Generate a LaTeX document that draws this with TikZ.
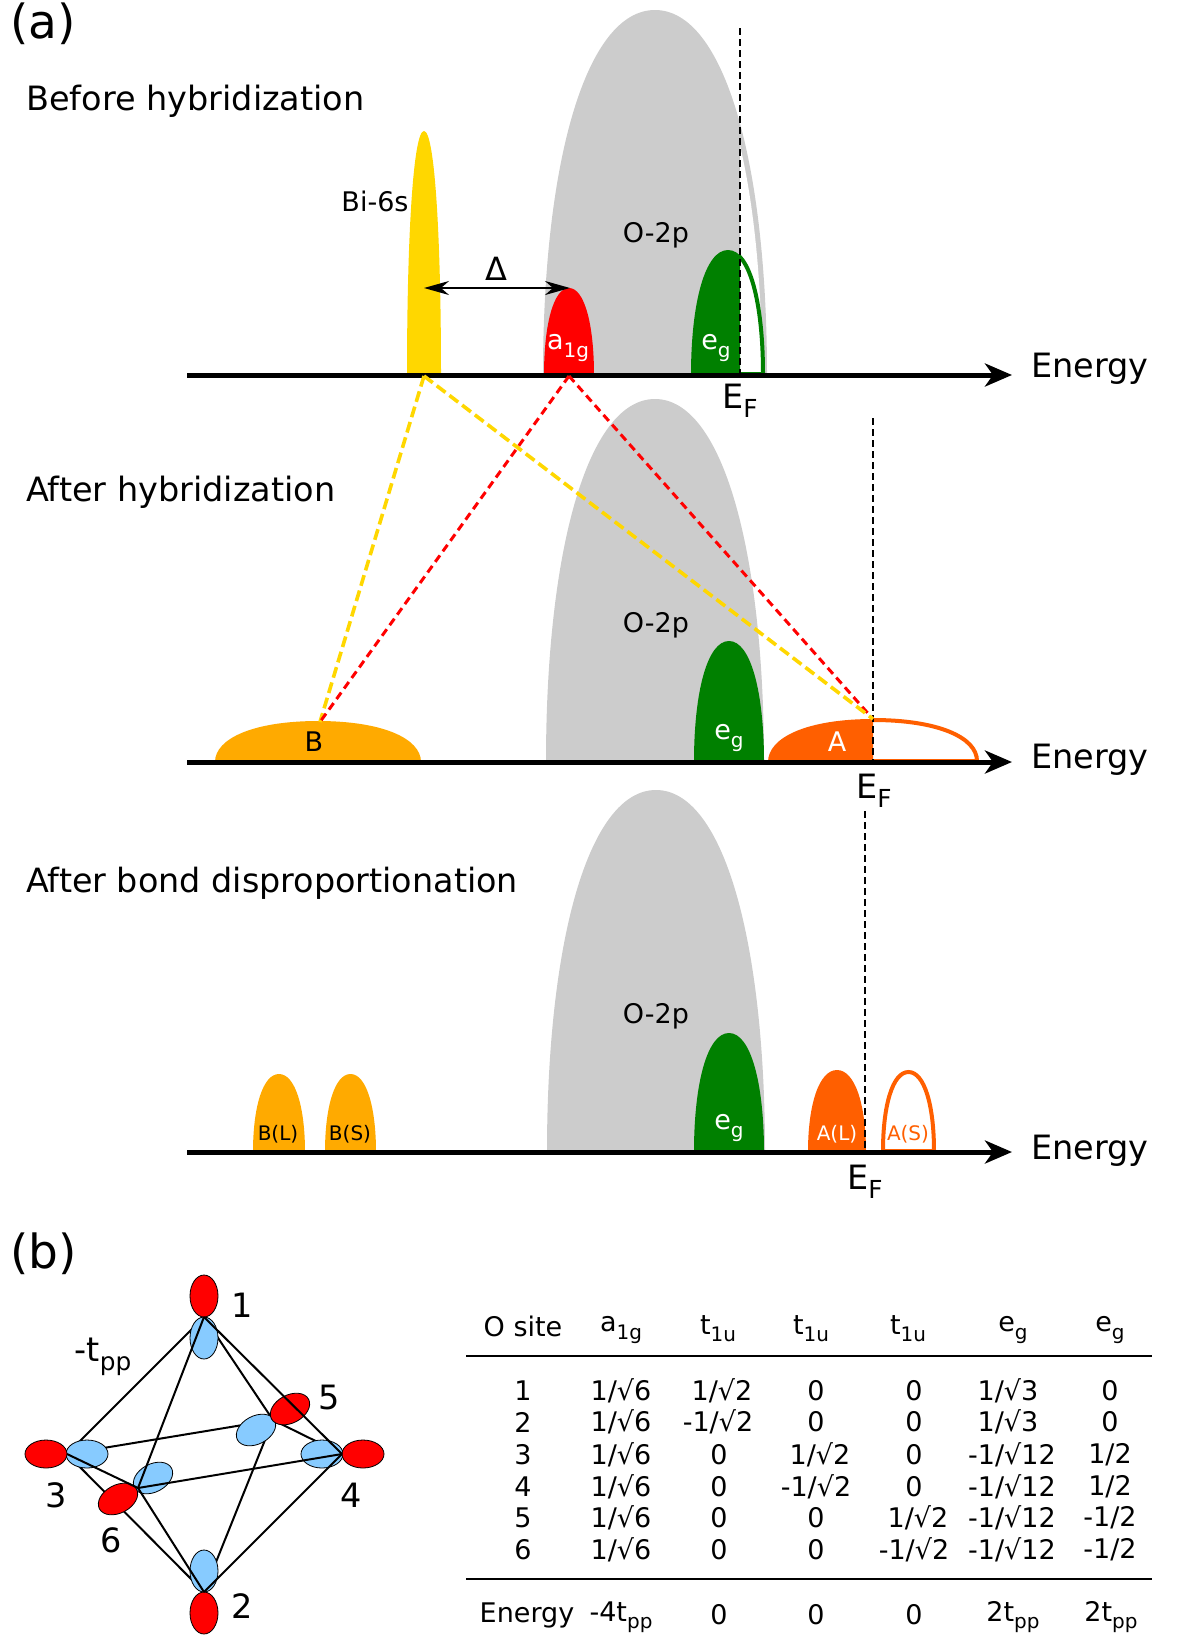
\documentclass[tikz,border=0pt]{standalone}
\usepackage{fontspec}
\setmainfont{DejaVu Sans}
\usetikzlibrary{arrows.meta,shapes.geometric}
\definecolor{bandgrey}{HTML}{CCCCCC}
\definecolor{bisix}{HTML}{FFD700}
\definecolor{bandred}{HTML}{FF0000}
\definecolor{bandgreen}{HTML}{008000}
\definecolor{bandA}{HTML}{FF5F00}
\definecolor{bandB}{HTML}{FFAA00}
\definecolor{lobeblue}{HTML}{87CBFF}
% lowered, smaller text for subscripts
\newcommand\lw[1]{\raisebox{-.26em}{\scalebox{.74}{#1}}}
% band shape: options, centre x, base y, half width, height
\newcommand\hump[5][]{\path[#1] ({#2-#4},#3)
  .. controls ({#2-#4},{#3-.58*#5}) and ({#2-.62*#4},{#3-#5}) .. (#2,{#3-#5})
  .. controls ({#2+.62*#4},{#3-#5}) and ({#2+#4},{#3-.58*#5}) .. ({#2+#4},#3) -- cycle;}
\tikzset{
  big/.style={font=\fontsize{33.5}{38}\selectfont,inner sep=0pt},
  huge/.style={font=\fontsize{47}{54}\selectfont,inner sep=0pt},
  mid/.style={font=\fontsize{27}{32}\selectfont,inner sep=0pt},
  tiny/.style={font=\fontsize{20}{24}\selectfont,inner sep=0pt},
  axisline/.style={line width=5pt,-{Stealth[length=27pt,width=23pt,inset=8pt]}},
  fermi/.style={line width=1.6pt,dash pattern=on 7pt off 4pt},
  yellowdash/.style={bisix,line width=3.6pt,dash pattern=on 11pt off 5pt},
  reddash/.style={bandred,line width=3pt,dash pattern=on 8pt off 5pt},
  bond/.style={line width=2pt},
  lobe/.style={ellipse,draw=black,line width=.8pt,inner sep=0pt,minimum width=42pt,minimum height=28pt},
  redlobe/.style={lobe,fill=bandred},
  bluelobe/.style={lobe,fill=lobeblue},
  rulegrey/.style={line width=1.8pt},
}
\begin{document}
\begin{tikzpicture}[x=1pt,y=-1pt]
\useasboundingbox (0,0) rectangle (1200,1650);

% --- panel 1: before hybridization
\hump[fill=bandgrey]{655}{375}{112}{365}
\begin{scope}
  \clip (740,0) rectangle (900,375);
  \hump[fill=white]{655}{375}{107}{355}
\end{scope}
\hump[fill=bisix]{424}{375}{17}{244}
\hump[fill=bandred]{569}{375}{25}{87}
\begin{scope}
  \clip (600,200) rectangle (740,375);
  \hump[fill=bandgreen]{728}{375}{37}{125}
\end{scope}
\begin{scope}
  \clip (740,200) rectangle (800,380);
  \hump[draw=bandgreen,line width=4pt]{728}{374}{35}{123}
\end{scope}
\coordinate (ef1a) at (740,28);
\coordinate (ef1b) at (740,375);
\draw[fermi] (ef1a) -- (ef1b);
\coordinate (ax1a) at (187,375);
\coordinate (ax1b) at (1012,375);
\draw[axisline] (ax1a) -- (ax1b);
\coordinate (gapa) at (424,288);
\coordinate (gapb) at (570,288);
\draw[line width=1.6pt,{Stealth[length=25pt,width=14pt,inset=8pt]}-{Stealth[length=25pt,width=14pt,inset=8pt]}] (gapa) -- (gapb);

% --- panel 2: after hybridization
\hump[fill=bandgrey]{655}{762}{109}{363}
\hump[fill=bandgreen]{729}{762}{35}{121}
\hump[fill=bandB]{318}{762}{103}{41}
\begin{scope}
  \clip (700,600) rectangle (873,762);
  \hump[fill=bandA]{873}{762}{105}{43}
\end{scope}
\begin{scope}
  \clip (873,600) rectangle (1000,764);
  \hump[draw=bandA,line width=4pt]{873}{761}{104}{41}
\end{scope}
\coordinate (ef2a) at (873,418);
\coordinate (ef2b) at (873,762);
\draw[fermi] (ef2a) -- (ef2b);
\coordinate (ax2a) at (187,762);
\coordinate (ax2b) at (1012,762);
\draw[axisline] (ax2a) -- (ax2b);

% --- panel 3: after bond disproportionation
\hump[fill=bandgrey]{656}{1152}{109}{362}
\hump[fill=bandgreen]{729}{1152}{35}{119}
\hump[fill=bandB]{279}{1152}{26}{78}
\hump[fill=bandB]{350.5}{1152}{25.5}{78}
\hump[fill=bandA]{837}{1152}{29}{82}
\hump[draw=bandA,line width=4pt]{908.5}{1151}{25.5}{79}
\coordinate (ef3a) at (865,811);
\coordinate (ef3b) at (865,1152);
\draw[fermi] (ef3a) -- (ef3b);
\coordinate (ax3a) at (187,1152);
\coordinate (ax3b) at (1012,1152);
\draw[axisline] (ax3a) -- (ax3b);

% --- correlation lines between levels
\coordinate (bi) at (424,376);
\coordinate (aone) at (569,376);
\coordinate (bb) at (320,722);
\coordinate (aa) at (873,719);
\draw[yellowdash] (bi) -- (bb);
\draw[reddash] (aone) -- (bb);
\draw[reddash] (aone) -- (aa);
\draw[yellowdash] (bi) -- (aa);

% --- headings and band labels
\node[huge,anchor=west] (la) at (10,24) {(a)};
\node[big,anchor=west] (t1) at (26,101) {Before hybridization};
\node[big,anchor=west] (t2) at (26,492) {After hybridization};
\node[font=\fontsize{33.4}{38}\selectfont,inner sep=0pt,anchor=west] (t3) at (26,883) {After bond disproportionation};
\node[mid] (bilab) at (375,201) {Bi-6s};
\node[font=\fontsize{32}{38}\selectfont,inner sep=0pt] (dlab) at (496,269) {Δ};
\node[mid] (o1) at (656,235) {O-2p};
\node[mid] (o2) at (656,625) {O-2p};
\node[mid] (o3) at (656,1016) {O-2p};
\node[mid,white] (a1g) at (568,348) {a\lw{1g}};
\node[mid,white] (eg1) at (716,348) {e\lw{g}};
\node[mid,white] (eg2) at (729,738) {e\lw{g}};
\node[mid,white] (eg3) at (729,1128) {e\lw{g}};
\node[mid] (blab) at (314,742) {B};
\node[mid,white] (alab) at (837,742) {A};
\node[tiny] (bl) at (278,1134) {B(L)};
\node[tiny] (bs) at (350,1134) {B(S)};
\node[tiny,white] (al) at (837,1134) {A(L)};
\node[tiny,bandA] (as) at (908,1134) {A(S)};
\node[big] (ef1) at (740,401) {E\lw{F}};
\node[big] (ef2) at (874,791) {E\lw{F}};
\node[big] (ef3) at (865,1182) {E\lw{F}};
\node[big,anchor=west] (en1) at (1031,369) {Energy};
\node[big,anchor=west] (en2) at (1031,760) {Energy};
\node[big,anchor=west] (en3) at (1031,1151) {Energy};

% --- panel (b): octahedron of oxygen orbitals
\node[huge,anchor=west] (lb) at (10,1254) {(b)};
\coordinate (vT) at (204,1317);
\coordinate (vB) at (204,1592);
\coordinate (vL) at (67,1454);
\coordinate (vR) at (342,1454);
\coordinate (vN) at (138,1488);
\coordinate (vF) at (273,1420);
% bonds that pass behind the orbitals
\draw[bond] (vT) -- (vL);
\draw[bond] (vT) -- (vF);
\draw[bond] (vF) -- (vR);
\draw[bond] (vL) -- (vF);
\draw[bond] (vF) -- (vB);
\draw[bond] (vL) -- (vB);
% orbitals
\node[bluelobe,rotate=90] (b1) at (204,1338) {};
\node[redlobe,rotate=90] (r1) at (204,1296) {};
\node[bluelobe,rotate=90] (b2) at (204,1571) {};
\node[redlobe,rotate=90] (r2) at (204,1613) {};
\node[bluelobe] (b3) at (87,1454) {};
\node[redlobe] (r3) at (46,1454) {};
\node[bluelobe] (b4) at (322,1454) {};
\node[redlobe] (r4) at (363,1454) {};
\node[bluelobe,rotate=28] (b5) at (256,1430) {};
\node[redlobe,rotate=28] (r5) at (290,1409) {};
\node[bluelobe,rotate=28] (b6) at (153,1478) {};
\node[redlobe,rotate=28] (r6) at (118,1499) {};
% bonds in front of the orbitals
\draw[bond] (vT) -- (vN);
\draw[bond] (vT) -- (vR);
\draw[bond] (vL) -- (vN);
\draw[bond] (vN) -- (vR);
\draw[bond] (vN) -- (vB);
\draw[bond] (vR) -- (vB);
% site numbers
\node[big] (n1) at (242,1305) {1};
\node[big] (n2) at (242,1606) {2};
\node[big] (n3) at (56,1495) {3};
\node[big] (n4) at (351,1495) {4};
\node[big] (n5) at (329,1398) {5};
\node[big] (n6) at (111,1540) {6};
\node[big] (tpp) at (103,1357) {-t\lw{pp}};

% --- orbital coefficient table
\coordinate (ru1a) at (466,1356);
\coordinate (ru1b) at (1152,1356);
\coordinate (ru2a) at (466,1579);
\coordinate (ru2b) at (1152,1579);
\draw[rulegrey] (ru1a) -- (ru1b);
\draw[rulegrey] (ru2a) -- (ru2b);
\foreach \nm/\px/\py/\tx in {
  h0/523/1326/O site, h1/621/1330/a\lw{1g}, h2/718/1329/t\lw{1u}, h3/811/1329/t\lw{1u},
  h4/908/1329/t\lw{1u}, h5/1013/1330/e\lw{g}, h6/1110/1330/e\lw{g},
  sa/523/1391/1, sb/523/1422/2, sc/523/1455/3, sd/523/1487/4, se/523/1518/5, sf/523/1550/6,
  aa1/621/1391/{1/√6}, aa2/621/1422/{1/√6}, aa3/621/1455/{1/√6}, aa4/621/1487/{1/√6}, aa5/621/1518/{1/√6}, aa6/621/1550/{1/√6},
  ba1/722/1391/{1/√2}, ba2/718/1422/{-1/√2}, ba3/719/1455/0, ba4/719/1487/0, ba5/719/1518/0, ba6/719/1550/0,
  ca1/816/1391/0, ca2/816/1422/0, ca3/820/1455/{1/√2}, ca4/816/1487/{-1/√2}, ca5/816/1518/0, ca6/816/1550/0,
  da1/914/1391/0, da2/914/1422/0, da3/914/1455/0, da4/914/1487/0, da5/918/1518/{1/√2}, da6/914/1550/{-1/√2},
  ea1/1008/1391/{1/√3}, ea2/1008/1422/{1/√3}, ea3/1012/1455/{-1/√12}, ea4/1012/1487/{-1/√12}, ea5/1012/1518/{-1/√12}, ea6/1012/1550/{-1/√12},
  fa1/1110/1391/0, fa2/1110/1422/0, fa3/1110/1455/{1/2}, fa4/1110/1487/{1/2}, fa5/1110/1518/{-1/2}, fa6/1110/1550/{-1/2},
  en/527/1615/Energy, e1/621/1617/-4t\lw{pp}, e2/719/1615/0, e3/816/1615/0, e4/914/1615/0,
  e5/1013/1617/2t\lw{pp}, e6/1111/1617/2t\lw{pp}}
  {\node[mid] (\nm) at (\px,\py) {\tx};}
\end{tikzpicture}
\end{document}
